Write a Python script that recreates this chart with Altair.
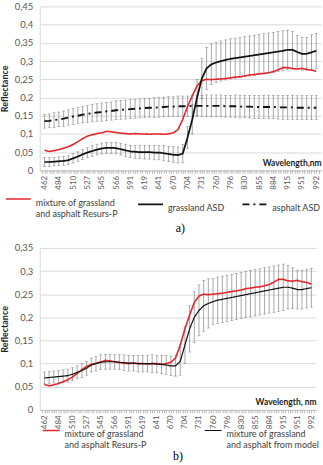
import altair as alt
import pandas as pd

# Wavelength tick labels (every third category on the index axis)
wavelength_labels = ["462", "484", "510", "527", "545", "566", "591", "619", "641", "670",
                     "704", "731", "760", "796", "830", "855", "884", "915", "951", "992"]
idx = list(range(58))

# Resurs-P spectrum of the grassland/asphalt mixture
resurs_p = [0.055, 0.052, 0.054, 0.057, 0.061, 0.065, 0.071, 0.079, 0.087, 0.094,
            0.098, 0.101, 0.103, 0.107, 0.106, 0.104, 0.102, 0.101, 0.100, 0.101,
            0.100, 0.100, 0.099, 0.100, 0.100, 0.099, 0.100, 0.103, 0.112, 0.140,
            0.175, 0.205, 0.232, 0.246, 0.250, 0.249, 0.250, 0.251, 0.252, 0.254,
            0.256, 0.257, 0.259, 0.262, 0.263, 0.265, 0.266, 0.268, 0.271, 0.276,
            0.282, 0.282, 0.279, 0.278, 0.280, 0.277, 0.275, 0.272]

# Grassland, ASD field spectrometer (mean and spread)
grass_asd = [0.023, 0.023, 0.024, 0.025, 0.026, 0.028, 0.033, 0.038, 0.044, 0.049,
             0.053, 0.057, 0.060, 0.062, 0.062, 0.061, 0.058, 0.055, 0.052, 0.051,
             0.050, 0.050, 0.050, 0.049, 0.049, 0.047, 0.045, 0.043, 0.042, 0.046,
             0.090, 0.140, 0.200, 0.252, 0.280, 0.291, 0.296, 0.300, 0.303, 0.306,
             0.308, 0.310, 0.312, 0.314, 0.316, 0.318, 0.320, 0.322, 0.324, 0.326,
             0.328, 0.331, 0.331, 0.325, 0.320, 0.320, 0.324, 0.328]
grass_asd_sd = [0.012, 0.012, 0.012, 0.012, 0.012, 0.012, 0.013, 0.013, 0.014, 0.014,
                0.015, 0.015, 0.015, 0.015, 0.015, 0.016, 0.016, 0.017, 0.017, 0.018,
                0.018, 0.019, 0.019, 0.020, 0.020, 0.021, 0.021, 0.022, 0.022, 0.025,
                0.030, 0.040, 0.050, 0.055, 0.058, 0.056, 0.055, 0.055, 0.055, 0.055,
                0.055, 0.055, 0.055, 0.055, 0.055, 0.055, 0.055, 0.055, 0.055, 0.055,
                0.055, 0.054, 0.050, 0.045, 0.045, 0.045, 0.048, 0.048]

# Asphalt, ASD field spectrometer (mean and spread)
asphalt_asd = [0.135, 0.136, 0.138, 0.140, 0.142, 0.145, 0.148, 0.150, 0.153, 0.155,
               0.157, 0.159, 0.160, 0.162, 0.163, 0.165, 0.166, 0.167, 0.168, 0.169,
               0.170, 0.171, 0.172, 0.172, 0.173, 0.174, 0.175, 0.175, 0.176, 0.176,
               0.176, 0.177, 0.177, 0.177, 0.177, 0.177, 0.177, 0.177, 0.176, 0.176,
               0.176, 0.175, 0.175, 0.175, 0.174, 0.174, 0.174, 0.174, 0.174, 0.173,
               0.173, 0.173, 0.173, 0.172, 0.172, 0.172, 0.172, 0.172]
asphalt_asd_sd = [0.019, 0.019, 0.020, 0.020, 0.021, 0.021, 0.022, 0.022, 0.023, 0.023,
                  0.024, 0.024, 0.025, 0.025, 0.025, 0.026, 0.026, 0.026, 0.026, 0.026,
                  0.026, 0.026, 0.026, 0.027, 0.027, 0.027, 0.027, 0.027, 0.028, 0.028,
                  0.028, 0.029, 0.029, 0.029, 0.030, 0.030, 0.030, 0.030, 0.030, 0.030,
                  0.031, 0.031, 0.031, 0.031, 0.032, 0.032, 0.032, 0.032, 0.032, 0.032,
                  0.033, 0.033, 0.033, 0.033, 0.033, 0.033, 0.033, 0.033]

# Modelled mixture spectrum (mean and spread)
model = [0.069, 0.070, 0.071, 0.072, 0.073, 0.074, 0.077, 0.081, 0.085, 0.090,
         0.097, 0.100, 0.103, 0.104, 0.104, 0.104, 0.103, 0.102, 0.101, 0.101,
         0.100, 0.100, 0.100, 0.100, 0.099, 0.098, 0.097, 0.095, 0.095, 0.105,
         0.140, 0.175, 0.200, 0.215, 0.225, 0.230, 0.234, 0.237, 0.239, 0.241,
         0.243, 0.245, 0.247, 0.249, 0.251, 0.253, 0.255, 0.257, 0.259, 0.261,
         0.263, 0.265, 0.265, 0.263, 0.260, 0.260, 0.262, 0.264]
model_sd = [0.013, 0.013, 0.013, 0.013, 0.014, 0.014, 0.014, 0.014, 0.015, 0.015,
            0.015, 0.016, 0.016, 0.016, 0.016, 0.016, 0.016, 0.017, 0.017, 0.017,
            0.018, 0.018, 0.018, 0.019, 0.019, 0.020, 0.020, 0.021, 0.022, 0.030,
            0.040, 0.050, 0.055, 0.055, 0.055, 0.053, 0.050, 0.050, 0.050, 0.050,
            0.050, 0.050, 0.050, 0.050, 0.050, 0.050, 0.050, 0.050, 0.050, 0.050,
            0.050, 0.050, 0.047, 0.044, 0.042, 0.042, 0.042, 0.042]

A_RED = "mixture of grassland|and asphalt  Resurs-P"
A_GRASS = "grassland ASD"
A_ASPH = "asphalt ASD"
B_RED = "mixture of grassland|and asphalt Resurs-P"
B_MODEL = "mixture of grassland|and asphalt from model"

FONT = "Lato"
GRID = "#d9d9d9"
ERR = "#6e6e6e"
RED = "#e3262b"


def long_frame(pairs):
    rows = []
    for name, values in pairs:
        for i, v in zip(idx, values):
            rows.append({"i": i, "value": v, "series": name})
    return pd.DataFrame(rows)


def err_frame(pairs):
    rows = []
    for name, values, sds in pairs:
        for i, v, s in zip(idx, values, sds):
            rows.append({"i": i, "lo": v - s, "hi": v + s, "series": name})
    return pd.DataFrame(rows)


# label every third category index with its wavelength
label_expr = "".join(
    f"datum.value == {3 * k} ? '{w}' : " for k, w in enumerate(wavelength_labels)
) + "''"
tick_values = [k / 2 for k in range(-1, 116)]


def x_axis(title):
    return alt.Axis(
        values=tick_values,
        labelExpr=label_expr,
        labelAngle=-90, labelAlign="right", labelBaseline="middle",
        labelFont=FONT, labelFontSize=8, labelColor="#595959", labelPadding=2,
        labelOverlap=False, labelFlush=False, labelBound=False,
        ticks=True, tickSize=3, tickColor="#8c8c8c", tickWidth=0.6,
        domainColor="#bfbfbf", grid=False,
        title=title, titleFont=FONT, titleFontSize=8.5, titleFontWeight="bold",
        titleColor="#1a1a1a", titleAnchor="end", titleAlign="right",
        titleBaseline="bottom", titleY=-3,
    )


def y_axis(values):
    return alt.Axis(
        values=values,
        labelExpr="replace(format(datum.value, '.2~f'), '.', ',')",
        labelFont=FONT, labelFontSize=9.5, labelColor="#595959", labelPadding=7,
        labelOverlap=False,
        ticks=False, domainColor="#d9d9d9", grid=True, gridColor=GRID,
        title="Reflectance", titleFont=FONT, titleFontSize=9, titleFontWeight="bold",
        titleColor="#262626", titlePadding=5,
    )


def legend(cols, x, y, col_pad, sym):
    return alt.Legend(
        title=None, orient="none", legendX=x, legendY=y, direction="horizontal",
        columns=cols, symbolType="stroke", symbolSize=sym, symbolStrokeWidth=2,
        labelFont=FONT, labelFontSize=9, labelColor="#404040",
        labelExpr="split(datum.label, '|')", labelLimit=300, labelOffset=4,
        columnPadding=col_pad, labelBaseline="top", labelAlign="left",
    )


def panel(width, height, y_max, y_values, xtitle, lines, dashes, colors, widths,
          errors, leg, caption, cap_offset):
    domain = [name for name, _ in lines]
    lf = long_frame(lines)
    ef = err_frame(errors)
    xscale = alt.Scale(domain=[-1, 58], nice=False, zero=False)
    yscale = alt.Scale(domain=[0, y_max], nice=False)
    xa = x_axis(xtitle)
    ya = y_axis(y_values)

    def xenc():
        return alt.X("i:Q", scale=xscale, axis=xa)

    def yenc(field):
        return alt.Y(f"{field}:Q", scale=yscale, axis=ya)

    bars = alt.Chart(ef).mark_rule(color=ERR, strokeWidth=0.6).encode(
        x=xenc(), y=yenc("lo"), y2="hi:Q")
    caps_hi = alt.Chart(ef).mark_tick(color=ERR, thickness=0.6, size=3,
                                      orient="horizontal").encode(x=xenc(), y=yenc("hi"))
    caps_lo = alt.Chart(ef).mark_tick(color=ERR, thickness=0.6, size=3,
                                      orient="horizontal").encode(x=xenc(), y=yenc("lo"))

    leg_obj = legend(*leg)
    curves = alt.Chart(lf).mark_line(strokeCap="butt").encode(
        x=xenc(),
        y=yenc("value"),
        color=alt.Color("series:N", sort=domain,
                        scale=alt.Scale(domain=domain, range=colors), legend=leg_obj),
        strokeDash=alt.StrokeDash("series:N", sort=domain,
                                  scale=alt.Scale(domain=domain, range=dashes),
                                  legend=leg_obj),
        strokeWidth=alt.StrokeWidth("series:N", sort=domain,
                                    scale=alt.Scale(domain=domain, range=widths),
                                    legend=None),
    )

    return alt.layer(bars, caps_hi, caps_lo, curves).properties(
        width=width, height=height,
        title=alt.Title(caption, orient="bottom", font="Liberation Serif", fontSize=12,
                        fontWeight="normal", color="#000000", anchor="middle",
                        offset=cap_offset),
    )


top = panel(
    283, 165, 0.45,
    [0, 0.05, 0.1, 0.15, 0.2, 0.25, 0.3, 0.35, 0.4, 0.45],
    "Wavelength,nm",
    [(A_RED, resurs_p), (A_GRASS, grass_asd), (A_ASPH, asphalt_asd)],
    [[1, 0], [1, 0], [7, 4, 2, 4]],
    [RED, "#111111", "#111111"],
    [1.6, 1.9, 1.9],
    [(A_GRASS, grass_asd, grass_asd_sd), (A_ASPH, asphalt_asd, asphalt_asd_sd)],
    (3, -35, 180, 14, 625),
    "a)", 4,
)

bottom = panel(
    278, 163, 0.35,
    [0, 0.05, 0.1, 0.15, 0.2, 0.25, 0.3, 0.35],
    "Wavelength, nm",
    [(B_RED, resurs_p), (B_MODEL, model)],
    [[1, 0], [1, 0]],
    [RED, "#111111"],
    [1.6, 1.2],
    [(B_MODEL, model, model_sd)],
    (2, 2, 174, 55, 289),
    "b)", 0,
)

chart = alt.vconcat(top, bottom, spacing=9).resolve_scale(
    color="independent", strokeDash="independent", strokeWidth="independent"
).resolve_legend(
    color="independent", strokeDash="independent", strokeWidth="independent"
).properties(
    padding={"left": 0, "top": 0, "right": 0, "bottom": 0}
).configure_view(stroke=None)

chart.save("out.html", embed_options={"renderer": "svg", "actions": False})
